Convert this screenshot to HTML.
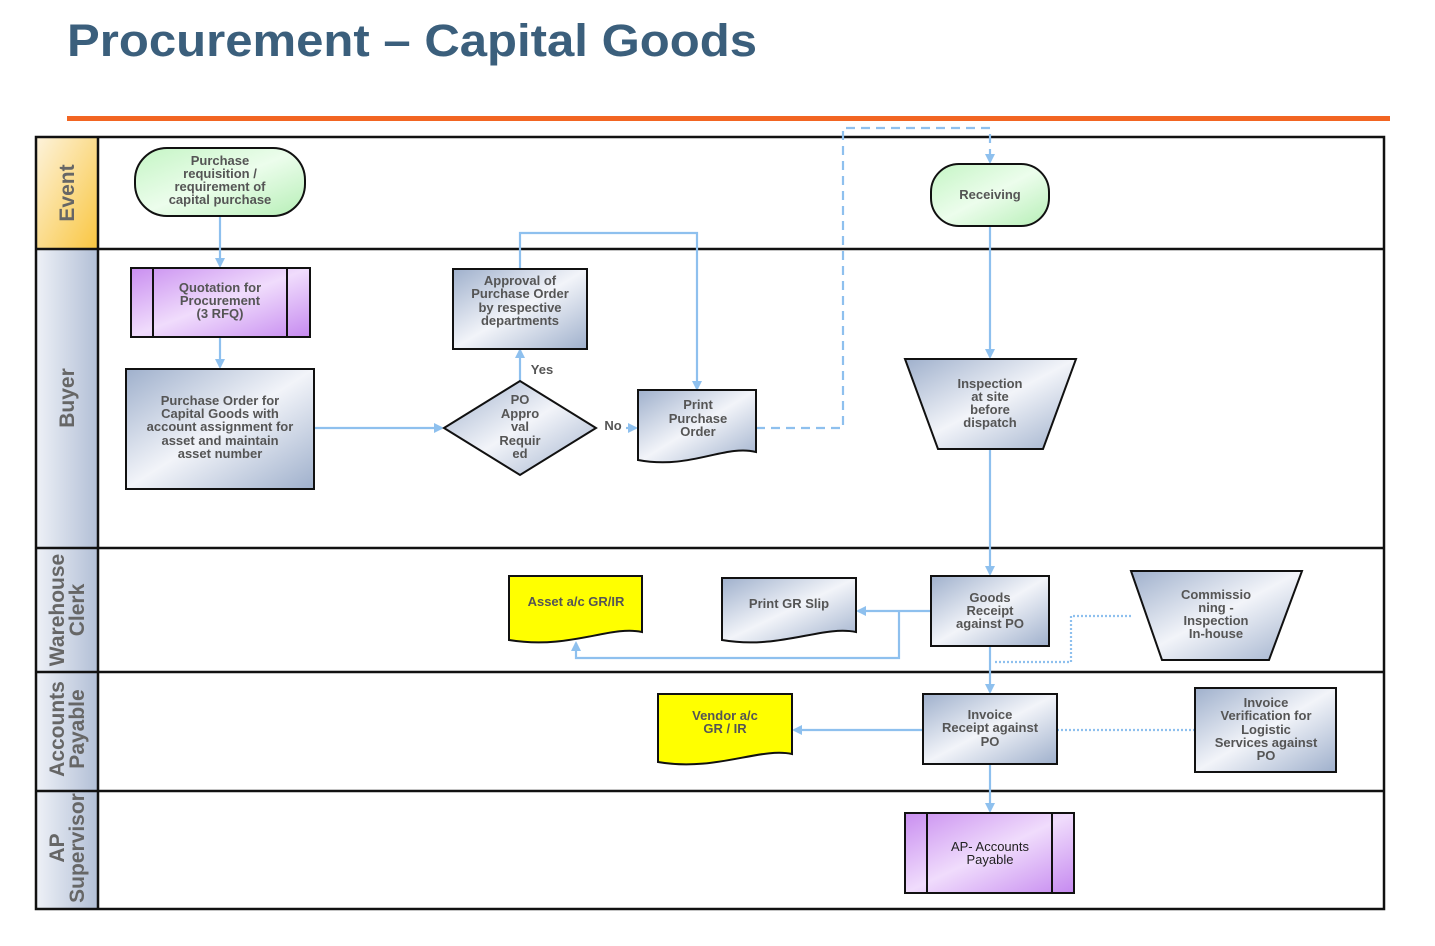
<!DOCTYPE html>
<html><head><meta charset="utf-8"><style>
html,body{margin:0;padding:0;background:#fff;}
svg{display:block;}
text{font-family:"Liberation Sans",Arial,sans-serif;}
.t{font-size:13px;font-weight:bold;fill:#555;text-anchor:middle;}
.h{font-size:21px;font-weight:bold;fill:#666;text-anchor:middle;}
.c{stroke:#8ec0ee;stroke-width:2.2;fill:none;}
.n{stroke:#111;stroke-width:2;}
</style></head><body>
<svg width="1435" height="946" viewBox="0 0 1435 946" xmlns="http://www.w3.org/2000/svg">
<defs>
<linearGradient id="bl" x1="0" y1="0" x2="1" y2="1"><stop offset="0" stop-color="#9fb0cc"/><stop offset="0.5" stop-color="#f2f4f9"/><stop offset="1" stop-color="#9fb0cc"/></linearGradient>
<linearGradient id="gr" x1="0" y1="0" x2="1" y2="1"><stop offset="0" stop-color="#c4f5c4"/><stop offset="0.5" stop-color="#ecfdec"/><stop offset="1" stop-color="#b6efb6"/></linearGradient>
<linearGradient id="pu" x1="0" y1="0" x2="1" y2="1"><stop offset="0" stop-color="#c98ef0"/><stop offset="0.5" stop-color="#f0dcfc"/><stop offset="1" stop-color="#c68af0"/></linearGradient>
<linearGradient id="ev" x1="0" y1="0" x2="1" y2="1"><stop offset="0" stop-color="#fdf3dc"/><stop offset="1" stop-color="#f9c640"/></linearGradient>
<linearGradient id="hd" x1="0" y1="0" x2="1" y2="0"><stop offset="0" stop-color="#eef1f7"/><stop offset="1" stop-color="#b2bfd6"/></linearGradient>
<marker id="a" markerWidth="10" markerHeight="10" refX="8" refY="5" orient="auto" markerUnits="userSpaceOnUse"><path d="M0,0 L10,5 L0,10 z" fill="#8ec0ee"/></marker>
</defs>

<text x="67" y="56" textLength="690" lengthAdjust="spacingAndGlyphs" style="font-size:45px;font-weight:bold;fill:#3b5f7c;">Procurement – Capital Goods</text>
<rect x="67" y="116" width="1323" height="5" fill="#f26522"/>

<rect x="36" y="137" width="62" height="112" fill="url(#ev)"/>
<rect x="36" y="249" width="62" height="660" fill="url(#hd)"/>
<rect x="36" y="137" width="1348" height="772" fill="none" stroke="#111" stroke-width="2.5"/>
<line x1="98" y1="137" x2="98" y2="909" stroke="#111" stroke-width="2.5"/>
<g stroke="#111" stroke-width="2.5">
<line x1="36" y1="249" x2="1384" y2="249"/>
<line x1="36" y1="548" x2="1384" y2="548"/>
<line x1="36" y1="672" x2="1384" y2="672"/>
<line x1="36" y1="791" x2="1384" y2="791"/>
</g>
<text class="h" transform="translate(74,193) rotate(-90)">Event</text>
<text class="h" transform="translate(74,398) rotate(-90)">Buyer</text>
<text class="h" transform="translate(64,610) rotate(-90)">Warehouse</text>
<text class="h" transform="translate(84,610) rotate(-90)">Clerk</text>
<text class="h" transform="translate(64,729) rotate(-90)">Accounts</text>
<text class="h" transform="translate(84,729) rotate(-90)">Payable</text>
<text class="h" transform="translate(64,848) rotate(-90)">AP</text>
<text class="h" transform="translate(84,848) rotate(-90)">Supervisor</text>

<path class="c" d="M220,216 V266" marker-end="url(#a)"/>
<path class="c" d="M220,337 V367" marker-end="url(#a)"/>
<path class="c" d="M314,428 H442" marker-end="url(#a)"/>
<path class="c" d="M520,381 V350" marker-end="url(#a)"/>
<path class="c" d="M520,269 V233 H697 V389" marker-end="url(#a)"/>
<path class="c" d="M626,428 H636" marker-end="url(#a)"/>
<path class="c" d="M756,428 H843 V128 H990 V162" stroke-dasharray="9,6" marker-end="url(#a)"/>
<path class="c" d="M990,226 V357" marker-end="url(#a)"/>
<path class="c" d="M990,449 V574" marker-end="url(#a)"/>
<path class="c" d="M931,611 H858" marker-end="url(#a)"/>
<path class="c" d="M899,611 V658 H576 V643" marker-end="url(#a)"/>
<path class="c" d="M990,646 V692" marker-end="url(#a)"/>
<path class="c" d="M1131,616 H1071 V662 H993" stroke-dasharray="2,2"/>
<path class="c" d="M923,730 H794" marker-end="url(#a)"/>
<path class="c" d="M1057,730 H1195" stroke-dasharray="2,2"/>
<path class="c" d="M990,764 V811" marker-end="url(#a)"/>
<text x="542" y="374" style="font-size:13px;font-weight:bold;fill:#555;text-anchor:middle;">Yes</text>
<text x="613" y="430" style="font-size:13px;font-weight:bold;fill:#555;text-anchor:middle;">No</text>

<rect class="n" x="135" y="148" width="170" height="68" rx="32" fill="url(#gr)"/>
<text class="t"><tspan x="220" y="165">Purchase</tspan><tspan x="220" y="178">requisition /</tspan><tspan x="220" y="191">requirement of</tspan><tspan x="220" y="204">capital purchase</tspan></text>

<rect class="n" x="931" y="164" width="118" height="62" rx="28" fill="url(#gr)"/>
<text class="t" x="990" y="199">Receiving</text>

<rect class="n" x="131" y="268" width="179" height="69" fill="url(#pu)"/>
<line class="n" x1="153" y1="268" x2="153" y2="337"/><line class="n" x1="287" y1="268" x2="287" y2="337"/>
<text class="t"><tspan x="220" y="292">Quotation for</tspan><tspan x="220" y="305">Procurement</tspan><tspan x="220" y="318">(3 RFQ)</tspan></text>

<rect class="n" x="126" y="369" width="188" height="120" fill="url(#bl)"/>
<text class="t"><tspan x="220" y="405">Purchase Order for</tspan><tspan x="220" y="418">Capital Goods with</tspan><tspan x="220" y="431">account assignment for</tspan><tspan x="220" y="445">asset and maintain</tspan><tspan x="220" y="458">asset number</tspan></text>

<rect class="n" x="453" y="269" width="134" height="80" fill="url(#bl)"/>
<text class="t"><tspan x="520" y="285">Approval of</tspan><tspan x="520" y="298">Purchase Order</tspan><tspan x="520" y="312">by respective</tspan><tspan x="520" y="325">departments</tspan></text>

<path class="n" d="M444,428 L520,381 L596,428 L520,475 Z" fill="url(#bl)"/>
<text class="t"><tspan x="520" y="404">PO</tspan><tspan x="520" y="418">Appro</tspan><tspan x="520" y="431">val</tspan><tspan x="520" y="445">Requir</tspan><tspan x="520" y="458">ed</tspan></text>

<path class="n" d="M638,390 H756 V452 C725,444 690,470 638,460 Z" fill="url(#bl)"/>
<text class="t"><tspan x="698" y="409">Print</tspan><tspan x="698" y="423">Purchase</tspan><tspan x="698" y="436">Order</tspan></text>

<path class="n" d="M905,359 H1076 L1043,449 H938 Z" fill="url(#bl)"/>
<text class="t"><tspan x="990" y="388">Inspection</tspan><tspan x="990" y="401">at site</tspan><tspan x="990" y="414">before</tspan><tspan x="990" y="427">dispatch</tspan></text>

<path class="n" d="M509,576 H642 V632 C610,625 570,650 509,640 Z" fill="#ffff00"/>
<text class="t" x="576" y="606">Asset a/c GR/IR</text>

<path class="n" d="M722,578 H856 V632 C822,625 780,650 722,640 Z" fill="url(#bl)"/>
<text class="t" x="789" y="608">Print GR Slip</text>

<rect class="n" x="931" y="576" width="118" height="70" fill="url(#bl)"/>
<text class="t"><tspan x="990" y="602">Goods</tspan><tspan x="990" y="615">Receipt</tspan><tspan x="990" y="628">against PO</tspan></text>

<path class="n" d="M1131,571 H1302 L1269,660 H1162 Z" fill="url(#bl)"/>
<text class="t"><tspan x="1216" y="599">Commissio</tspan><tspan x="1216" y="612">ning -</tspan><tspan x="1216" y="625">Inspection</tspan><tspan x="1216" y="638">In-house</tspan></text>

<path class="n" d="M658,694 H792 V754 C760,747 715,772 658,762 Z" fill="#ffff00"/>
<text class="t"><tspan x="725" y="720">Vendor a/c</tspan><tspan x="725" y="733">GR / IR</tspan></text>

<rect class="n" x="923" y="694" width="134" height="70" fill="url(#bl)"/>
<text class="t"><tspan x="990" y="719">Invoice</tspan><tspan x="990" y="732">Receipt against</tspan><tspan x="990" y="746">PO</tspan></text>

<rect class="n" x="1195" y="688" width="141" height="84" fill="url(#bl)"/>
<text class="t"><tspan x="1266" y="707">Invoice</tspan><tspan x="1266" y="720">Verification for</tspan><tspan x="1266" y="734">Logistic</tspan><tspan x="1266" y="747">Services against</tspan><tspan x="1266" y="760">PO</tspan></text>

<rect class="n" x="905" y="813" width="169" height="80" fill="url(#pu)"/>
<line class="n" x1="927" y1="813" x2="927" y2="893"/><line class="n" x1="1052" y1="813" x2="1052" y2="893"/>
<text style="font-size:13px;fill:#222;text-anchor:middle;"><tspan x="990" y="851">AP- Accounts</tspan><tspan x="990" y="864">Payable</tspan></text>
</svg>
</body></html>
